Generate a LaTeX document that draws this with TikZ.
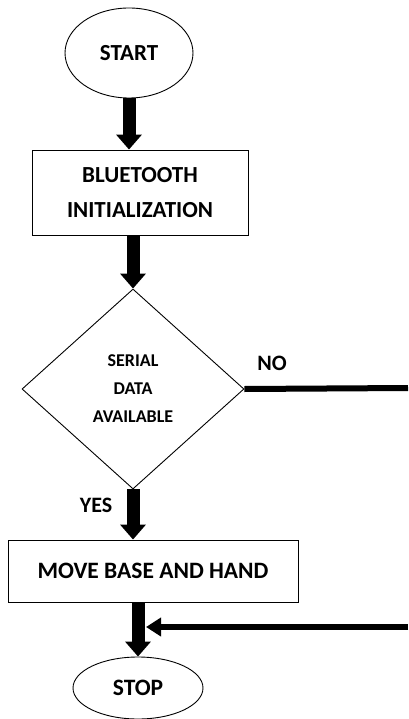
\documentclass[tikz,border=0pt]{standalone}
\usepackage{fontspec}
\setmainfont{Carlito}
\usetikzlibrary{shapes.geometric,arrows.meta}
\begin{document}
\begin{tikzpicture}[x=1pt,y=-1pt,
  shapebox/.style={draw,line width=0.9pt,inner sep=0pt,align=center,font=\bfseries},
  bigflow/.style={line width=13pt,-{Triangle[width=25pt,length=15pt]}},
  sideflow/.style={line width=6pt},
  sideret/.style={line width=6pt,-{Triangle[width=18pt,length=15pt]}},
  lbl/.style={font=\bfseries\fontsize{22}{26}\selectfont,inner sep=0pt}]
\useasboundingbox[fill=white] (0,0) rectangle (408,719);
\node[shapebox,ellipse,minimum width=128pt,minimum height=90pt,font=\bfseries\fontsize{23}{28}\selectfont] (start) at (129,53) {START};
\node[shapebox,rectangle,minimum width=216pt,minimum height=85pt,font=\bfseries\fontsize{23}{35}\selectfont] (bt) at (140,192.5) {BLUETOOTH\\INITIALIZATION};
\node[shapebox,diamond,minimum width=222pt,minimum height=200pt,font=\bfseries\fontsize{18}{28}\selectfont] (dec) at (133,389) {SERIAL\\DATA\\AVAILABLE};
\node[shapebox,rectangle,minimum width=290pt,minimum height=62pt,font=\bfseries\fontsize{23.5}{30}\selectfont] (mbh) at (153,571) {MOVE BASE AND HAND};
\node[shapebox,ellipse,minimum width=130pt,minimum height=62pt,font=\bfseries\fontsize{23.5}{28}\selectfont] (stop) at (138,688) {STOP};
\node[lbl] (no) at (272,363) {NO};
\node[lbl] (yes) at (96,505) {YES};
\coordinate (noend) at (408,388);
\coordinate (retstart) at (408,627);
\coordinate (retend) at (146,627);
\draw[bigflow] (start.south) -- (start.south |- bt.north);
\draw[bigflow] (dec.north |- bt.south) -- (dec.north);
\draw[bigflow] (dec.south) -- (dec.south |- mbh.north);
\draw[bigflow] (stop.north |- mbh.south) -- (stop.north);
\draw[sideflow] (dec.east) -- (noend);
\draw[sideret] (retstart) -- (retend);
\end{tikzpicture}
\end{document}
